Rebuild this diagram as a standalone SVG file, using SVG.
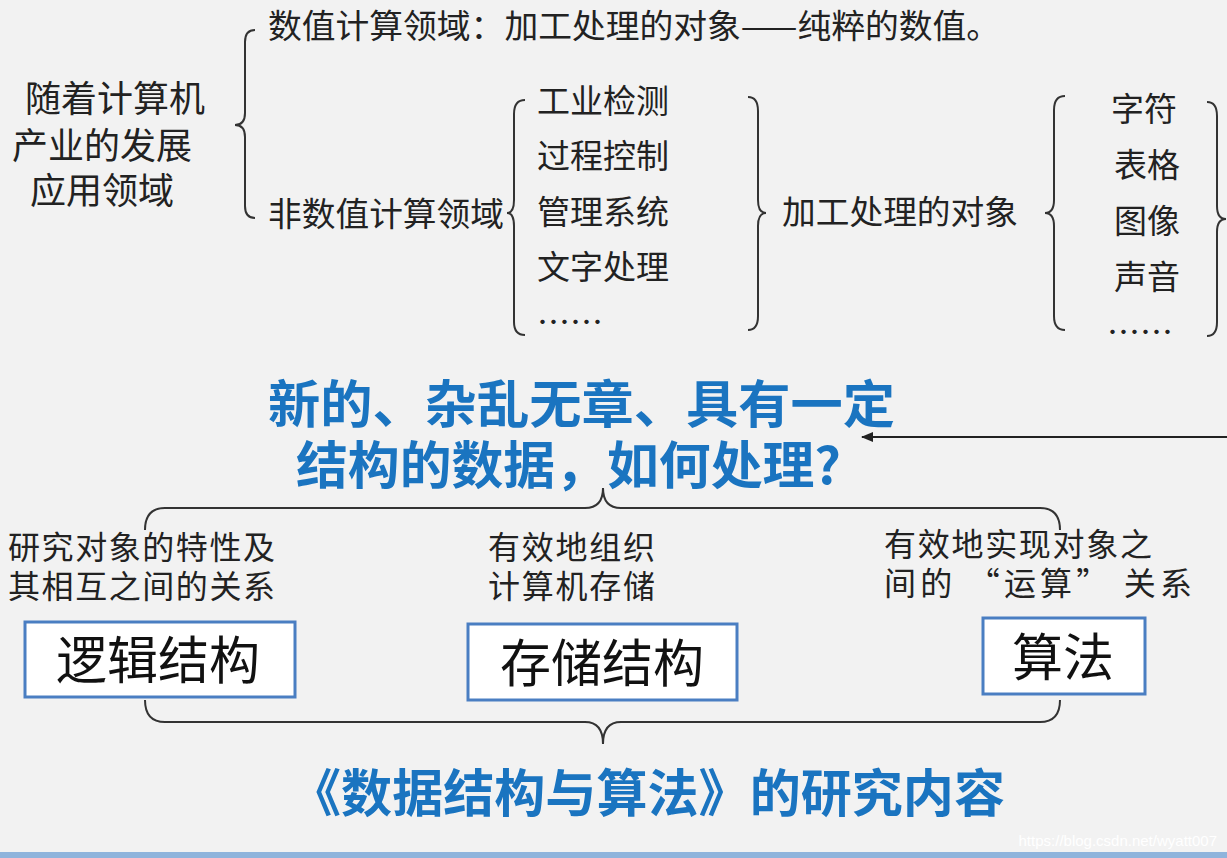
<svg xmlns="http://www.w3.org/2000/svg" width="1227" height="858" viewBox="0 0 1227 858">
<defs>
<style>
.t{font-family:"Noto Sans CJK SC","Liberation Sans",sans-serif;fill:#222;font-size:33px}
.r{font-family:"Noto Sans CJK SC","Liberation Sans",sans-serif;fill:#222;font-size:36px}
.s{font-family:"Noto Sans CJK SC","Liberation Sans",sans-serif;fill:#222;font-size:32px}
.b{font-family:"Noto Sans CJK SC","Liberation Sans",sans-serif;fill:#1a74c0;font-size:51px;font-weight:bold}
.k{font-family:"Noto Sans CJK SC","Liberation Sans",sans-serif;fill:#111;font-size:51px}
.br{fill:none;stroke:#333;stroke-width:2}
.box{fill:#fff;stroke:#4a7ec2;stroke-width:3}
</style>
<marker id="ah" markerWidth="12" markerHeight="10" refX="11" refY="5" orient="auto" markerUnits="userSpaceOnUse"><path d="M0,0 L12,5 L0,10 z" fill="#222"/></marker>
</defs>
<rect width="1227" height="858" fill="#f2f2f2"/>
<rect x="0" y="852" width="1227" height="6" fill="#8fb4dc"/>
<g id="connectors">
<path class="br" d="M255,30 Q245,30 245,42 L245,113 Q245,125 235,125 Q245,125 245,137 L245,206 Q245,218 255,218"/>
<path class="br" d="M525,100 Q514,100 514,114 L514,200 Q514,213 507,213 Q514,213 514,226 L514,322 Q514,335 525,335"/>
<path class="br" d="M748,97 Q758,97 758,111 L758,200 Q758,213 766,213 Q758,213 758,226 L758,316 Q758,330 748,330"/>
<path class="br" d="M1065,96 Q1054,96 1054,110 L1054,200 Q1054,213 1045,213 Q1054,213 1054,226 L1054,316 Q1054,330 1065,330"/>
<path class="br" d="M1207,102 Q1217,102 1217,116 L1217,206 Q1217,219 1226,219 Q1217,219 1217,232 L1217,322 Q1217,336 1207,336"/>
<path class="br" d="M145,530 Q145,508 165,508 L585,508 Q603,508 603,488 Q603,508 621,508 L1040,508 Q1060,508 1060,530"/>
<path class="br" d="M145,700 Q145,722 165,722 L585,722 Q603,722 603,744 Q603,722 621,722 L1040,722 Q1060,722 1060,700"/>
<line x1="1227" y1="437" x2="862" y2="437" stroke="#222" stroke-width="2" marker-end="url(#ah)"/>
</g>
<g id="top">
<text class="t" x="268" y="38" textLength="732" lengthAdjust="spacingAndGlyphs">数值计算领域：加工处理的对象——纯粹的数值。</text>
<text class="t" x="268" y="226" textLength="236" lengthAdjust="spacingAndGlyphs">非数值计算领域</text>
<text class="t" x="782" y="224" textLength="236" lengthAdjust="spacingAndGlyphs">加工处理的对象</text>
</g>
<g id="root">
<text class="r" x="25" y="112">随着计算机</text>
<text class="r" x="12" y="159">产业的发展</text>
<text class="r" x="30" y="204">应用领域</text>
</g>
<g id="apps">
<text class="t" x="537" y="113">工业检测</text>
<text class="t" x="537" y="168">过程控制</text>
<text class="t" x="537" y="224">管理系统</text>
<text class="t" x="537" y="279">文字处理</text>
<text class="t" x="537" y="334">……</text>
</g>
<g id="objects">
<text class="t" x="1144" y="121" text-anchor="middle">字符</text>
<text class="t" x="1147" y="177" text-anchor="middle">表格</text>
<text class="t" x="1147" y="233" text-anchor="middle">图像</text>
<text class="t" x="1147" y="289" text-anchor="middle">声音</text>
<text class="t" x="1140" y="344" text-anchor="middle">……</text>
</g>
<g id="question">
<text class="b" x="268" y="423" textLength="627" lengthAdjust="spacingAndGlyphs">新的、杂乱无章、具有一定</text>
<text class="b" x="296" y="484" textLength="545" lengthAdjust="spacingAndGlyphs">结构的数据，如何处理?</text>
</g>
<g id="desc">
<text class="s" x="8" y="559" textLength="267">研究对象的特性及</text>
<text class="s" x="8" y="598" textLength="267">其相互之间的关系</text>
<text class="s" x="488" y="559" textLength="167">有效地组织</text>
<text class="s" x="488" y="598" textLength="167">计算机存储</text>
<text class="s" x="884" y="556" textLength="268">有效地实现对象之</text>
<text class="s" x="884" y="595" xml:space="preserve" textLength="308">间的 “运算” 关系</text>
</g>
<g id="n1"><rect class="box" x="25" y="622" width="270" height="75"/><text class="k" x="158" y="679" text-anchor="middle">逻辑结构</text></g>
<g id="n2"><rect class="box" x="468" y="624" width="269" height="76"/><text class="k" x="602" y="682" text-anchor="middle">存储结构</text></g>
<g id="n3"><rect class="box" x="983" y="618" width="162" height="76"/><text class="k" x="1063" y="676" text-anchor="middle">算法</text></g>
<g id="footer">
<text class="b" x="290" y="812" textLength="715" lengthAdjust="spacingAndGlyphs">《数据结构与算法》的研究内容</text>
<text x="1217" y="846" text-anchor="end" font-family="Liberation Sans,sans-serif" font-size="15" fill="#fff">https://blog.csdn.net/wyatt007</text>
</g>
</svg>
